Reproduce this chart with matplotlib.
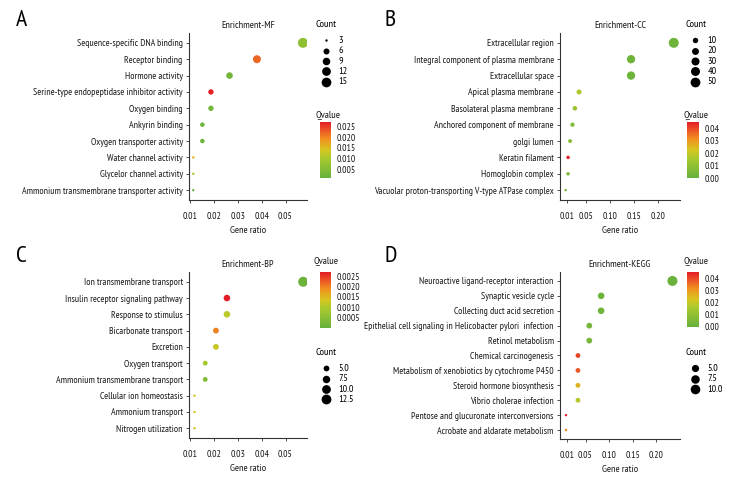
import numpy as np
import matplotlib
matplotlib.use("Agg")
import matplotlib.pyplot as plt
from matplotlib.colors import LinearSegmentedColormap, Normalize
from matplotlib.ticker import FormatStrFormatter

plt.rcParams['font.family'] = ['PT Sans Narrow', 'Roboto Condensed', 'DejaVu Sans']

# === DATA ===
mf_terms = ["Sequence-specific DNA binding", "Receptor binding", "Hormone activity",
            "Serine-type endopeptidase inhibitor activity", "Oxygen binding", "Ankyrin binding",
            "Oxygen transporter activity", "Water channel activity", "Glycelor channel activity",
            "Ammonium transmembrane transporter activity"]
mf_ratio = [0.0573, 0.038, 0.0265, 0.0187, 0.0187, 0.0151, 0.0151, 0.0113, 0.0113, 0.0113]
mf_count = [16, 10, 7, 5, 5, 4, 4, 3, 3, 3]
mf_q = [0.0065, 0.022, 0.003, 0.027, 0.003, 0.002, 0.002, 0.016, 0.009, 0.001]

cc_terms = ["Extracellular region", "Integral component of plasma membrane", "Extracellular space",
            "Apical plasma membrane", "Basolateral plasma membrane", "Anchored component of membrane",
            "golgi lumen", "Keratin filament", "Homoglobin complex",
            "Vacuolar proton-transporting V-type ATPase complex"]
cc_ratio = [0.233, 0.144, 0.144, 0.0357, 0.027, 0.022, 0.017, 0.0128, 0.0128, 0.0077]
cc_count = [53, 33, 33, 8, 6, 5, 4, 3, 3, 2]
cc_q = [0.002, 0.002, 0.002, 0.016, 0.012, 0.006, 0.008, 0.045, 0.004, 0.002]

bp_terms = ["Ion transmembrane transport", "Insulin receptor signaling pathway", "Response to stimulus",
            "Bicarbonate transport", "Excretion", "Oxygen transport", "Ammonium transmembrane transport",
            "Cellular ion homeostasis", "Ammonium transport", "Nitrogen utilization"]
bp_ratio = [0.0574, 0.0254, 0.0254, 0.0208, 0.0208, 0.0163, 0.0163, 0.0118, 0.0118, 0.0118]
bp_count = [13, 6, 6, 5, 5, 4, 4, 3, 3, 3]
bp_q = [0.0001, 0.0027, 0.0011, 0.0020, 0.0012, 0.0009, 0.0004, 0.0014, 0.0014, 0.0014]

kegg_terms = ["Neuroactive ligand-receptor interaction", "Synaptic vesicle cycle",
              "Collecting duct acid secretion", "Epithelial cell signaling in Helicobacter pylori  infection",
              "Retinol metabolism", "Chemical carcinogenesis",
              "Metabolism of xenobiotics by cytochrome P450", "Steroid hormone biosynthesis",
              "Vibrio cholerae infection", "Pentose and glucuronate interconversions",
              "Acrobate and aldarate metabolism"]
kegg_ratio = [0.234, 0.083, 0.083, 0.058, 0.058, 0.034, 0.034, 0.034, 0.034, 0.0087, 0.0087]
kegg_count = [11, 4, 4, 3, 3, 2, 2, 2, 2, 1, 1]
kegg_q = [0.001, 0.002, 0.002, 0.003, 0.004, 0.040, 0.038, 0.026, 0.018, 0.045, 0.033]

# === STYLE ===
W, H = 740, 490
cmap = LinearSegmentedColormap.from_list(
    "qv", [(0.0, "#66b13c"), (0.35, "#a9c92e"), (0.5, "#d6c61f"),
           (0.7, "#f0901f"), (0.88, "#ea4a27"), (1.0, "#e31d25")])
AXC = "#333333"
TXT = "#1a1a1a"
FS = 7.0


def frac(l, t, r, b):
    return [l / W, 1 - b / H, (r - l) / W, (b - t) / H]


def size_of(c, cmin, cmax, dmin=2.4, dmax=10.0):
    c = np.asarray(c, dtype=float)
    d = dmin + (dmax - dmin) * np.sqrt((c - cmin) / (cmax - cmin))
    return (d * 0.72) ** 2


def panel(box, letter, title, terms, ratio, count, q, xticks, xlim, vmin,
          cbar_box, cbar_ticks, cbar_fmt, qtitle_xy, leg_xy, leg_vals, leg_fmt, letter_xy):
    ax = fig.add_axes(frac(*box))
    n = len(terms)
    cmin, cmax = min(count), max(count)
    norm = Normalize(vmin=vmin, vmax=max(q))
    sc = ax.scatter(ratio[::-1], terms[::-1], s=size_of(count[::-1], cmin, cmax),
                    c=q[::-1], cmap=cmap, norm=norm, linewidths=0, zorder=3)
    ax.set_ylim(-0.6, n - 0.4)
    ax.set_xlim(*xlim)
    ax.set_xticks(xticks)
    ax.set_xticklabels(["%.2f" % t for t in xticks])
    for s in ['top', 'right']:
        ax.spines[s].set_visible(False)
    for s in ['left', 'bottom']:
        ax.spines[s].set_color(AXC)
        ax.spines[s].set_linewidth(0.8)
    ax.tick_params(colors=AXC, labelcolor=TXT, labelsize=FS, length=2.5, width=0.6, pad=2)
    ax.tick_params(axis='x', pad=6)
    ax.set_xlabel("Gene ratio", fontsize=FS + 0.3, color=TXT, labelpad=4)
    ax.set_title(title, fontsize=FS + 0.3, color=TXT, pad=3.5)
    fig.text(letter_xy[0] / W, 1 - letter_xy[1] / H, letter, fontsize=17, va='center', ha='left')

    # colour bar
    cax = fig.add_axes(frac(*cbar_box))
    cb = fig.colorbar(sc, cax=cax)
    cb.outline.set_visible(False)
    cb.set_ticks(cbar_ticks)
    cb.ax.yaxis.set_major_formatter(FormatStrFormatter(cbar_fmt))
    cb.ax.tick_params(labelsize=FS, length=2, color='white', width=0.6, pad=2, labelcolor=TXT)
    fig.text(qtitle_xy[0] / W, 1 - qtitle_xy[1] / H, "Qvalue", fontsize=FS + 0.5,
             va='center', ha='left', color=TXT)

    # size legend
    handles = [ax.scatter([], [], s=size_of(v, cmin, cmax), color='black', linewidths=0)
               for v in leg_vals]
    leg = fig.legend(handles, [leg_fmt % v for v in leg_vals], title="Count", loc='upper left',
                     bbox_to_anchor=(leg_xy[0] / W, 1 - leg_xy[1] / H), frameon=False,
                     fontsize=FS + 0.3, title_fontsize=FS + 0.5, alignment='left',
                     handlelength=2.0, handletextpad=0.2, labelspacing=0.12, borderpad=0,
                     borderaxespad=0)
    leg._legend_box.sep = 5
    return ax


fig = plt.figure(figsize=(W / 100, H / 100), dpi=100)

panel((189, 33, 307, 200), "A", "Enrichment-MF", mf_terms, mf_ratio, mf_count, mf_q,
      [0.01, 0.02, 0.03, 0.04, 0.05], (0.0095, 0.059), min(mf_q),
      (320, 122, 331, 178), [0.005, 0.010, 0.015, 0.020, 0.025], '%.3f', (315, 115),
      (316, 20), [3, 6, 9, 12, 15], '%d', (16, 21))

panel((560, 33, 680, 200), "B", "Enrichment-CC", cc_terms, cc_ratio, cc_count, cc_q,
      [0.01, 0.05, 0.10, 0.15, 0.20], (-0.004, 0.246), 0.0,
      (687, 122, 699, 178), [0.00, 0.01, 0.02, 0.03, 0.04], '%.2f', (683, 115),
      (685, 20), [10, 20, 30, 40, 50], '%d', (385, 21))

panel((189, 272, 307, 438), "C", "Enrichment-BP", bp_terms, bp_ratio, bp_count, bp_q,
      [0.01, 0.02, 0.03, 0.04, 0.05], (0.0095, 0.059), 0.0,
      (320, 272, 331, 328), [0.0005, 0.0010, 0.0015, 0.0020, 0.0025], '%.4f', (314, 262),
      (316, 348), [5.0, 7.5, 10.0, 12.5], '%.1f', (16, 257))

panel((560, 272, 680, 439), "D", "Enrichment-KEGG", kegg_terms, kegg_ratio, kegg_count, kegg_q,
      [0.01, 0.05, 0.10, 0.15, 0.20], (-0.004, 0.25), 0.0,
      (687, 272, 699, 327), [0.00, 0.01, 0.02, 0.03, 0.04], '%.2f', (683, 262),
      (685, 348), [5.0, 7.5, 10.0], '%.1f', (385, 257))

fig.savefig("out.png", dpi=100)
